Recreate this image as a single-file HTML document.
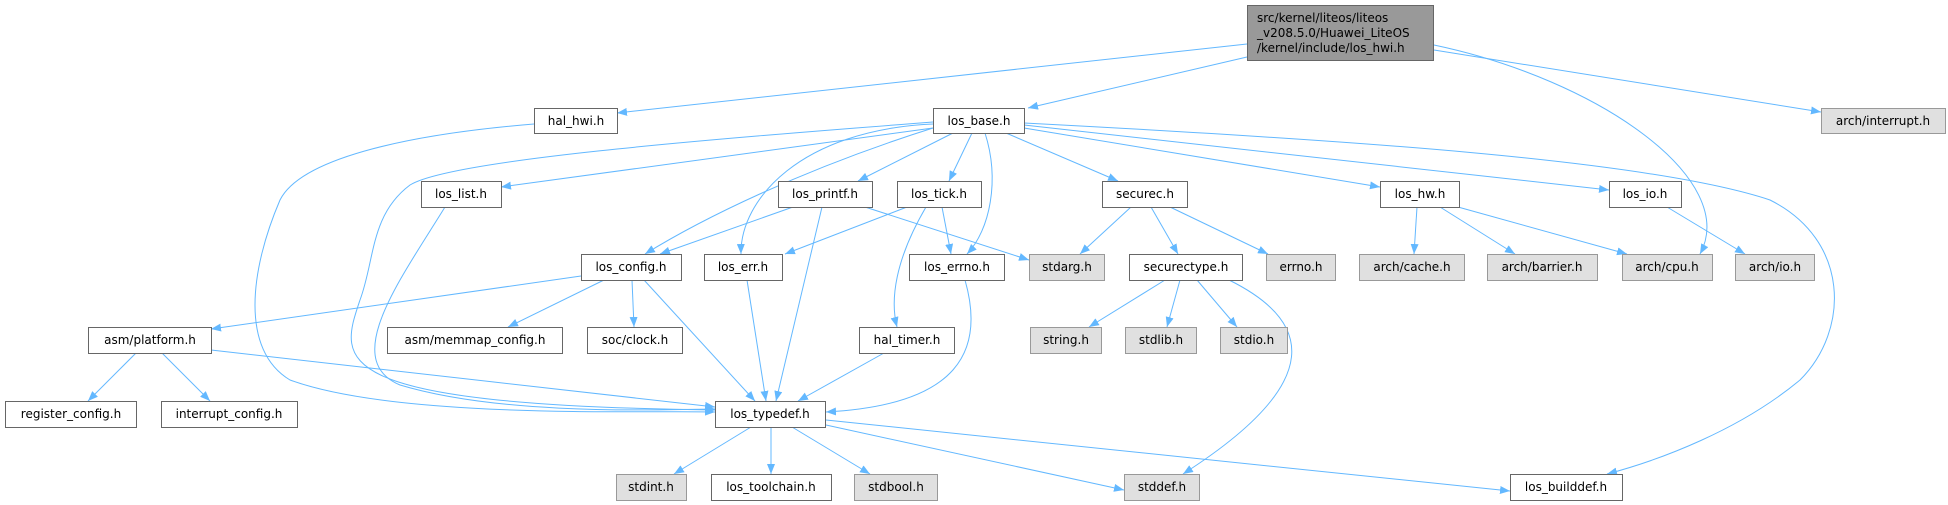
<!DOCTYPE html>
<html><head><meta charset="utf-8"><style>
html,body{margin:0;padding:0;background:#fff;}
svg{display:block;}
text{font-family:"DejaVu Sans","Liberation Sans",sans-serif;font-size:12px;fill:#000;}
.w{fill:#fff;stroke:#666;stroke-width:1;}
.g{fill:#e0e0e0;stroke:#999;stroke-width:1;}
.m{fill:#999;stroke:#666;stroke-width:1;}
.e{fill:none;stroke:#63b8ff;stroke-width:1;marker-end:url(#a);}
</style></head><body>
<svg width="1948" height="505" viewBox="0 0 1948 505" xmlns="http://www.w3.org/2000/svg">
<defs><marker id="a" markerWidth="10" markerHeight="8" refX="10" refY="4" orient="auto" markerUnits="userSpaceOnUse"><path d="M0,0 L10,4 L0,8 z" fill="#63b8ff"/></marker></defs>
<g>
<path class="e" d="M1247,44 L617,113"/>
<path class="e" d="M1247,57 L1028,108"/>
<path class="e" d="M1434,50 L1821,112"/>
<path class="e" d="M1434,45 C1600,80 1740,180 1700,254"/>
<path class="e" d="M534,124 C400,135 300,160 280,200 C250,270 240,350 290,380 C400,420 650,410 715,412"/>
<path class="e" d="M933,128 L501,187"/>
<path class="e" d="M953,133 L858,181"/>
<path class="e" d="M972,133 L949,181"/>
<path class="e" d="M933,128 C800,170 700,220 645,254"/>
<path class="e" d="M933,124 C800,130 740,200 741,254"/>
<path class="e" d="M985,133 C1000,180 990,230 967,254"/>
<path class="e" d="M933,122 C700,140 450,160 410,185 C370,215 375,260 360,300 C340,360 320,405 715,410"/>
<path class="e" d="M445,207 C400,280 340,360 400,385 C500,415 650,410 715,409"/>
<path class="e" d="M1006,133 L1118,181"/>
<path class="e" d="M1024,128 L1380,187"/>
<path class="e" d="M1024,125 L1609,190"/>
<path class="e" d="M1024,123 C1350,140 1650,160 1770,200 C1850,240 1850,330 1800,380 C1740,430 1660,460 1607,474"/>
<path class="e" d="M793,207 L660,254"/>
<path class="e" d="M822,207 L776,401"/>
<path class="e" d="M865,207 L1029,260"/>
<path class="e" d="M907,207 L785,254"/>
<path class="e" d="M942,207 L951,254"/>
<path class="e" d="M926,207 C895,260 890,300 897,327"/>
<path class="e" d="M1131,207 L1080,254"/>
<path class="e" d="M1151,207 L1178,254"/>
<path class="e" d="M1170,207 L1268,254"/>
<path class="e" d="M1417,207 L1414,254"/>
<path class="e" d="M1440,207 L1515,254"/>
<path class="e" d="M1458,207 L1627,254"/>
<path class="e" d="M1667,207 L1745,254"/>
<path class="e" d="M581,276 L211,329"/>
<path class="e" d="M604,280 L508,327"/>
<path class="e" d="M632,280 L634,327"/>
<path class="e" d="M644,280 L755,401"/>
<path class="e" d="M747,280 L766,401"/>
<path class="e" d="M965,280 C985,350 960,405 826,412"/>
<path class="e" d="M884,353 L798,401"/>
<path class="e" d="M136,353 L88,401"/>
<path class="e" d="M162,353 L210,401"/>
<path class="e" d="M211,350 L715,407"/>
<path class="e" d="M1165,280 L1089,327"/>
<path class="e" d="M1180,280 L1167,327"/>
<path class="e" d="M1197,280 L1237,327"/>
<path class="e" d="M1229,280 C1310,320 1330,380 1183,474"/>
<path class="e" d="M751,427 L674,474"/>
<path class="e" d="M771,427 L771,474"/>
<path class="e" d="M792,427 L870,474"/>
<path class="e" d="M826,425 L1124,490"/>
<path class="e" d="M826,420 L1510,491"/>
</g>
<g>
<rect class="m" x="1247.5" y="5.5" width="186" height="55"/>
<text x="1257" y="22">src/kernel/liteos/liteos</text>
<text x="1257" y="37">_v208.5.0/Huawei_LiteOS</text>
<text x="1257" y="52">/kernel/include/los_hwi.h</text>
</g>
<g text-anchor="middle">
<rect class="w" x="534.5" y="108.5" width="83" height="25"/><text x="576" y="125">hal_hwi.h</text>
<rect class="w" x="933.5" y="108.5" width="91" height="25"/><text x="979" y="125">los_base.h</text>
<rect class="g" x="1821.5" y="108.5" width="124" height="25"/><text x="1883" y="125">arch/interrupt.h</text>
<rect class="w" x="421.5" y="181.5" width="80" height="26"/><text x="461" y="198">los_list.h</text>
<rect class="w" x="778.5" y="181.5" width="94" height="26"/><text x="825" y="198">los_printf.h</text>
<rect class="w" x="897.5" y="181.5" width="84" height="26"/><text x="939" y="198">los_tick.h</text>
<rect class="w" x="1102.5" y="181.5" width="85" height="26"/><text x="1145" y="198">securec.h</text>
<rect class="w" x="1380.5" y="181.5" width="79" height="26"/><text x="1420" y="198">los_hw.h</text>
<rect class="w" x="1609.5" y="181.5" width="72" height="26"/><text x="1645" y="198">los_io.h</text>
<rect class="w" x="581.5" y="254.5" width="100" height="26"/><text x="631" y="271">los_config.h</text>
<rect class="w" x="704.5" y="254.5" width="78" height="26"/><text x="743" y="271">los_err.h</text>
<rect class="w" x="909.5" y="254.5" width="95" height="26"/><text x="957" y="271">los_errno.h</text>
<rect class="g" x="1029.5" y="254.5" width="75" height="26"/><text x="1067" y="271">stdarg.h</text>
<rect class="w" x="1129.5" y="254.5" width="113" height="26"/><text x="1186" y="271">securectype.h</text>
<rect class="g" x="1266.5" y="254.5" width="69" height="26"/><text x="1301" y="271">errno.h</text>
<rect class="g" x="1359.5" y="254.5" width="105" height="26"/><text x="1412" y="271">arch/cache.h</text>
<rect class="g" x="1487.5" y="254.5" width="110" height="26"/><text x="1542" y="271">arch/barrier.h</text>
<rect class="g" x="1622.5" y="254.5" width="90" height="26"/><text x="1667" y="271">arch/cpu.h</text>
<rect class="g" x="1735.5" y="254.5" width="79" height="26"/><text x="1775" y="271">arch/io.h</text>
<rect class="w" x="88.5" y="327.5" width="123" height="26"/><text x="150" y="344">asm/platform.h</text>
<rect class="w" x="387.5" y="327.5" width="175" height="26"/><text x="475" y="344">asm/memmap_config.h</text>
<rect class="w" x="587.5" y="327.5" width="95" height="26"/><text x="635" y="344">soc/clock.h</text>
<rect class="w" x="859.5" y="327.5" width="95" height="26"/><text x="907" y="344">hal_timer.h</text>
<rect class="g" x="1030.5" y="327.5" width="71" height="26"/><text x="1066" y="344">string.h</text>
<rect class="g" x="1125.5" y="327.5" width="71" height="26"/><text x="1161" y="344">stdlib.h</text>
<rect class="g" x="1220.5" y="327.5" width="67" height="26"/><text x="1254" y="344">stdio.h</text>
<rect class="w" x="5.5" y="401.5" width="131" height="26"/><text x="71" y="418">register_config.h</text>
<rect class="w" x="161.5" y="401.5" width="136" height="26"/><text x="229" y="418">interrupt_config.h</text>
<rect class="w" x="715.5" y="401.5" width="110" height="26"/><text x="770" y="418">los_typedef.h</text>
<rect class="g" x="616.5" y="474.5" width="70" height="26"/><text x="651" y="491">stdint.h</text>
<rect class="w" x="711.5" y="474.5" width="120" height="26"/><text x="771" y="491">los_toolchain.h</text>
<rect class="g" x="854.5" y="474.5" width="83" height="26"/><text x="896" y="491">stdbool.h</text>
<rect class="g" x="1124.5" y="474.5" width="75" height="26"/><text x="1162" y="491">stddef.h</text>
<rect class="w" x="1510.5" y="474.5" width="112" height="26"/><text x="1566" y="491">los_builddef.h</text>
</g>
</svg>
</body></html>
